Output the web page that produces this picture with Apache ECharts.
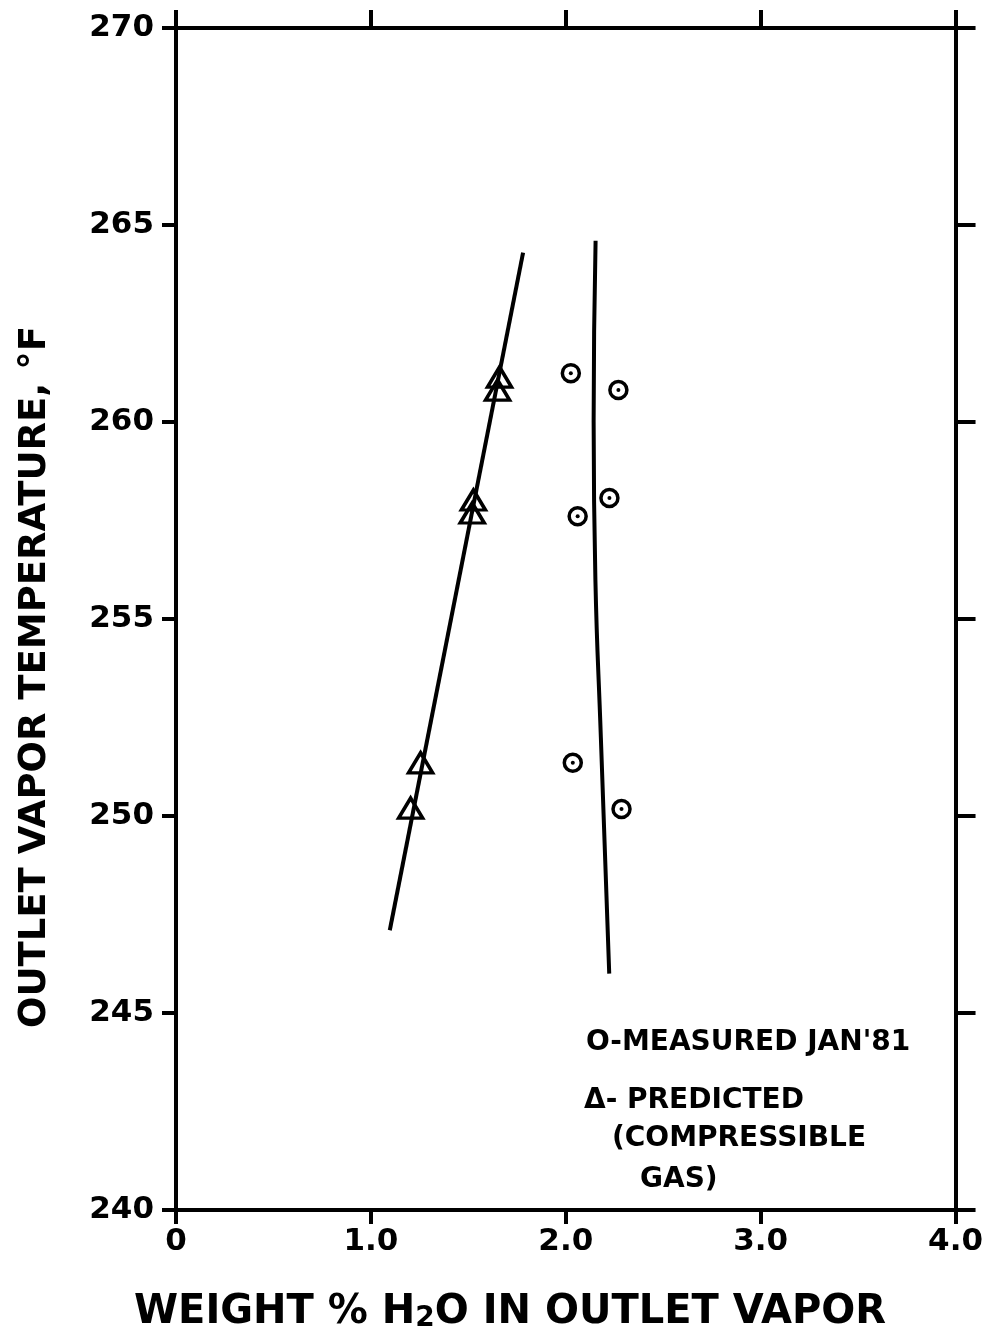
<!DOCTYPE html>
<html>
<head>
<meta charset="utf-8">
<script src="https://cdn.jsdelivr.net/npm/echarts@6/dist/echarts.min.js"></script>
<style>
 html, body { margin: 0; padding: 0; background: #fff; }
 #main { width: 986px; height: 1343px; }
</style>
</head>
<body>
<div id="main"></div>
<script>
// values
var xTickLabels = ['0', '1.0', '2.0', '3.0', '4.0'];
var yTickLabels = ['240', '245', '250', '255', '260', '265', '270'];

// measured Jan '81 (weight % H2O, outlet vapor temp F)
var measured = [[2.026, 261.24], [2.270, 260.81], [2.224, 258.07], [2.061, 257.61], [2.036, 251.35], [2.286, 250.18]];
// predicted, compressible gas
var predicted = [[1.660, 261.14], [1.650, 260.81], [1.526, 258.02], [1.520, 257.69], [1.255, 251.35], [1.204, 250.20]];
// straight line through predicted points
var predictedLine = [[1.097, 247.1], [1.781, 264.3]];
// hand drawn curve through measured points
var measuredCurve = [[2.153, 264.6], [2.143, 260], [2.152, 256], [2.180, 252], [2.223, 246]];

var ink = '#000';
var font = 'DejaVu Sans';

var myChart = echarts.init(document.getElementById('main'));

var baseAxisLine = { show: true, onZero: false, lineStyle: { color: ink, width: 4 } };

var option = {
  backgroundColor: '#fff',
  animation: false,
  grid: { left: 176, right: 26, top: 28, bottom: 133 },
  xAxis: [
    {
      type: 'value', min: 0, max: 4, interval: 1, position: 'bottom',
      axisLine: baseAxisLine,
      axisTick: { show: true, inside: false, length: 14, lineStyle: { color: ink, width: 4 } },
      axisLabel: {
        margin: 16, color: ink, fontSize: 31, fontWeight: 'bold', fontFamily: font,
        formatter: function (v) { return xTickLabels[Math.round(v)]; }
      },
      splitLine: { show: false }
    },
    {
      type: 'value', min: 0, max: 4, interval: 1, position: 'top',
      axisLine: baseAxisLine,
      axisTick: { show: true, inside: false, length: 18, lineStyle: { color: ink, width: 4 } },
      axisLabel: { show: false },
      splitLine: { show: false }
    }
  ],
  yAxis: [
    {
      type: 'value', min: 240, max: 270, interval: 5, position: 'left',
      axisLine: baseAxisLine,
      axisTick: { show: true, inside: false, length: 14, lineStyle: { color: ink, width: 4 } },
      axisLabel: {
        margin: 22, color: ink, fontSize: 31, fontWeight: 'bold', fontFamily: font,
        formatter: function (v) { return yTickLabels[Math.round((v - 240) / 5)]; }
      },
      splitLine: { show: false }
    },
    {
      type: 'value', min: 240, max: 270, interval: 5, position: 'right',
      axisLine: baseAxisLine,
      axisTick: { show: true, inside: false, length: 20, lineStyle: { color: ink, width: 4 } },
      axisLabel: { show: false },
      splitLine: { show: false }
    }
  ],
  series: [
    {
      name: 'predicted line', type: 'line', data: predictedLine,
      showSymbol: false, symbol: 'none',
      lineStyle: { color: ink, width: 4 }
    },
    {
      name: 'measured curve', type: 'line', data: measuredCurve,
      showSymbol: false, symbol: 'none', smooth: 0.5,
      lineStyle: { color: ink, width: 4 }
    },
    {
      name: 'PREDICTED', type: 'scatter', data: predicted,
      symbol: 'triangle', symbolSize: [24, 20],
      itemStyle: { color: 'rgba(0,0,0,0)', borderColor: ink, borderWidth: 3.5, opacity: 1 }
    },
    {
      name: 'MEASURED', type: 'scatter', data: measured,
      symbol: 'circle', symbolSize: 17,
      itemStyle: { color: '#fff', borderColor: ink, borderWidth: 3.5, opacity: 1 }
    },
    {
      name: 'MEASURED centre', type: 'scatter', data: measured,
      symbol: 'circle', symbolSize: 4, z: 5,
      itemStyle: { color: ink, opacity: 1 }
    }
  ],
  graphic: [
    {
      type: 'text', x: 35, y: 677, rotation: Math.PI / 2,
      style: {
        text: 'OUTLET VAPOR TEMPERATURE, °F',
        fill: ink, font: 'bold 37px "DejaVu Sans"',
        align: 'center', verticalAlign: 'middle'
      }
    },
    {
      type: 'text', x: 510, y: 1313,
      style: {
        text: 'WEIGHT % H{s|2}O IN OUTLET VAPOR',
        fill: ink, fontSize: 40, fontWeight: 'bold', fontFamily: font,
        align: 'center', verticalAlign: 'middle',
        rich: {
          s: { fontSize: 28, fontWeight: 'bold', fontFamily: font, fill: ink, lineHeight: 12, verticalAlign: 'bottom' }
        }
      }
    },
    {
      type: 'text', x: 586, y: 1043,
      style: { text: "O-MEASURED JAN'81", fill: ink, font: 'bold 28px "DejaVu Sans"', verticalAlign: 'middle' }
    },
    {
      type: 'text', x: 584, y: 1101,
      style: { text: 'Δ- PREDICTED', fill: ink, font: 'bold 28px "DejaVu Sans"', verticalAlign: 'middle' }
    },
    {
      type: 'text', x: 612, y: 1139,
      style: { text: '(COMPRESSIBLE', fill: ink, font: 'bold 28px "DejaVu Sans"', verticalAlign: 'middle' }
    },
    {
      type: 'text', x: 640, y: 1180,
      style: { text: 'GAS)', fill: ink, font: 'bold 28px "DejaVu Sans"', verticalAlign: 'middle' }
    }
  ]
};

myChart.setOption(option);
window.onresize = function () {
  myChart.resize();
};
</script>
</body>
</html>
